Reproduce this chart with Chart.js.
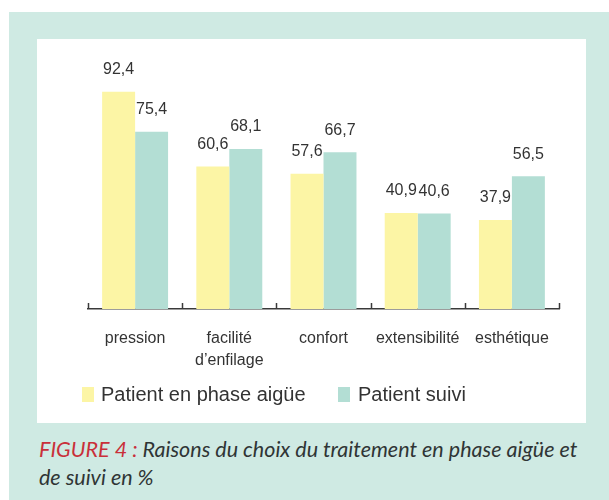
<!DOCTYPE html>
<html>
<head>
<meta charset="utf-8">
<script src="https://cdn.jsdelivr.net/npm/chart.js@4"></script>
<style>
  body { margin: 0; background: #fff; width: 609px; height: 500px; position: relative; overflow: hidden; }
  #frame { position: absolute; left: 9px; top: 12px; width: 600px; height: 488px; background: #cfeae3; }
  #panel { position: absolute; left: 37px; top: 39px; width: 549px; height: 384px; background: #fff; }
  #chartBox { position: absolute; left: 0; top: 0; width: 549px; height: 359px; }
  .sq { position: absolute; width: 12px; height: 15px; top: 348px; }
  .lg { position: absolute; top: 343px; font: 20px "Liberation Sans", Arial, sans-serif; color: #333; line-height: 24px; white-space: nowrap; }
  #caption { position: absolute; left: 39px; top: 435px; width: 552px; font: italic 21.5px Lato, sans-serif; color: #2f3535; line-height: 28px; }
  #caption span { color: #c9303a; }
</style>
</head>
<body>
<div id="frame"></div>
<div id="panel">
  <div id="chartBox"><canvas id="barChart" width="549" height="359"></canvas></div>
  <div class="sq" style="left:45px;background:#fcf5a5"></div>
  <div class="lg" style="left:64px">Patient en phase aigüe</div>
  <div class="sq" style="left:301px;background:#b3ded4"></div>
  <div class="lg" style="left:321px">Patient suivi</div>
</div>
<div id="caption"><span>FIGURE 4 :</span> Raisons du choix du traitement en phase aigüe et de suivi en %</div>
<script>
const categories = ['pression', ['facilité', 'd’enfilage'], 'confort', 'extensibilité', 'esthétique'];
const seriesNames = ['Patient en phase aigüe', 'Patient suivi'];
const valuesAigue = [92.4, 60.6, 57.6, 40.9, 37.9];
const valuesSuivi = [75.4, 68.1, 66.7, 40.6, 56.5];

// draws the value above each bar, with a French decimal comma
const valueLabels = {
    id: 'valueLabels',
    afterDatasetsDraw(chart) {
        const ctx = chart.ctx;
        ctx.save();
        ctx.font = '16px "Liberation Sans", Arial, sans-serif';
        ctx.fillStyle = '#333';
        ctx.textAlign = 'center';
        ctx.textBaseline = 'middle';
        chart.data.datasets.forEach((ds, i) => {
            chart.getDatasetMeta(i).data.forEach((bar, j) => {
                ctx.fillText(String(ds.data[j]).replace('.', ','), bar.x, bar.y - 22);
            });
        });
        ctx.restore();
    }
};

// small upward ticks between categories on the x axis
const axisTicks = {
    id: 'axisTicks',
    afterDraw(chart) {
        const ctx = chart.ctx;
        const x = chart.scales.x;
        const bottom = chart.chartArea.bottom;
        const step = x.getPixelForValue(1) - x.getPixelForValue(0);
        ctx.save();
        ctx.strokeStyle = '#3a3a3a';
        ctx.lineWidth = 1.5;
        for (let i = 0; i <= categories.length; i++) {
            const px = Math.round(x.getPixelForValue(i) - step / 2) + 0.5;
            ctx.beginPath();
            ctx.moveTo(px, bottom);
            ctx.lineTo(px, bottom - 6);
            ctx.stroke();
        }
        ctx.restore();
    }
};

const ctx = document.getElementById('barChart').getContext('2d');
const myChart = new Chart(ctx, {
    type: 'bar',
    data: {
        labels: categories,
        datasets: [
            { label: seriesNames[0], data: valuesAigue, backgroundColor: '#fcf5a5' },
            { label: seriesNames[1], data: valuesSuivi, backgroundColor: '#b3ded4' }
        ]
    },
    options: {
        responsive: false,
        animation: false,
        layout: { padding: { left: 51, right: 27, top: 35, bottom: 7 } },
        datasets: { bar: { barPercentage: 1, categoryPercentage: 0.7, borderWidth: 0 } },
        plugins: { legend: { display: false }, tooltip: { enabled: false } },
        scales: {
            x: {
                grid: { display: false, drawTicks: false },
                border: { display: true, color: '#3a3a3a', width: 1.5 },
                ticks: {
                    color: '#333',
                    font: { family: '"Liberation Sans", Arial, sans-serif', size: 16, lineHeight: 1.375 },
                    padding: 19,
                    maxRotation: 0,
                    autoSkip: false
                }
            },
            y: { display: false, min: 0, max: 100 }
        }
    },
    plugins: [valueLabels, axisTicks]
});
</script>
</body>
</html>
